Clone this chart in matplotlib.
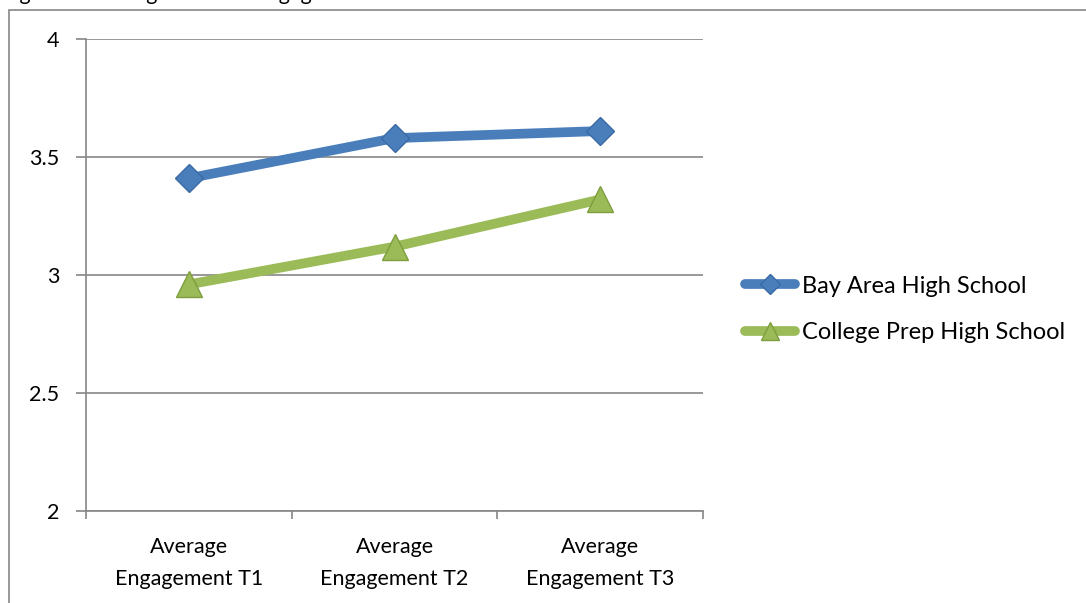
import matplotlib.pyplot as plt
from matplotlib.lines import Line2D
from matplotlib.patches import Rectangle

plt.rcParams['font.family'] = ['Lato', 'DejaVu Sans']

categories = ['Average\nEngagement T1', 'Average\nEngagement T2', 'Average\nEngagement T3']
bay_area = [3.41, 3.58, 3.61]
college_prep = [2.96, 3.12, 3.32]
y_ticks = [2, 2.5, 3, 3.5, 4]
y_tick_labels = ['2', '2.5', '3', '3.5', '4']
series_names = ['Bay Area High School', 'College Prep High School']
title_text = 'Figure 4. Average Student Engagement'

blue = '#4A7EBB'
blue_edge = '#3A6AA5'
green = '#9BBB59'
green_edge = '#7E9E3E'
grey = '#868686'
fs = 15.5
legend_fs = 17

fig = plt.figure(figsize=(10.86, 6.03), dpi=100)

# chart frame, runs off the right and bottom edges
fig.patches.append(Rectangle((9 / 1086, -0.05), 1.2, 1 - 10 / 603 + 0.05,
                             transform=fig.transFigure, fill=False,
                             edgecolor=grey, linewidth=1.2))
fig.text(0.002, 1.0, title_text, fontsize=fs, va='baseline', ha='left')

ax = fig.add_axes([86 / 1086, 1 - 511 / 603, 617 / 1086, 472 / 603])
x = list(range(len(categories)))

ax.plot(x, bay_area, color=blue, linewidth=7, solid_capstyle='round',
        marker='D', markersize=14, markerfacecolor=blue,
        markeredgecolor=blue_edge, markeredgewidth=1, zorder=3)
ax.plot(x, college_prep, color=green, linewidth=7, solid_capstyle='round',
        marker='^', markersize=19, markerfacecolor=green,
        markeredgecolor=green_edge, markeredgewidth=1, zorder=3)

ax.set_xlim(-0.5, len(categories) - 0.5)
ax.set_ylim(y_ticks[0], y_ticks[-1])
ax.set_yticks(y_ticks)
ax.set_yticklabels(y_tick_labels)
ax.set_xticks(x)
ax.set_xticklabels(categories, linespacing=1.75)
ax.set_xticks([i - 0.5 for i in range(len(categories) + 1)], minor=True)

ax.yaxis.grid(True, color=grey, linewidth=1.2)
ax.set_axisbelow(True)
for side in ['top', 'right']:
    ax.spines[side].set_visible(False)
for side in ['left', 'bottom']:
    ax.spines[side].set_color(grey)
    ax.spines[side].set_linewidth(1.2)

ax.tick_params(axis='y', length=7, width=1.2, color=grey, labelsize=fs, pad=12)
ax.tick_params(axis='x', which='major', length=0, labelsize=fs, pad=19)
ax.tick_params(axis='x', which='minor', length=6, width=1.2, color=grey)

handles = [
    Line2D([], [], color=blue, linewidth=7, solid_capstyle='round', marker='D',
           markersize=10, markerfacecolor=blue, markeredgecolor=blue_edge),
    Line2D([], [], color=green, linewidth=7, solid_capstyle='round', marker='^',
           markersize=13, markerfacecolor=green, markeredgecolor=green_edge),
]
fig.legend(handles, series_names, loc='center left',
           bbox_to_anchor=(745 / 1086, 1 - 309.5 / 603), frameon=False,
           fontsize=legend_fs, handlelength=2.1, handletextpad=0.3,
           labelspacing=1.09, numpoints=1, borderpad=0, borderaxespad=0)

fig.savefig('out.png', dpi=100)
